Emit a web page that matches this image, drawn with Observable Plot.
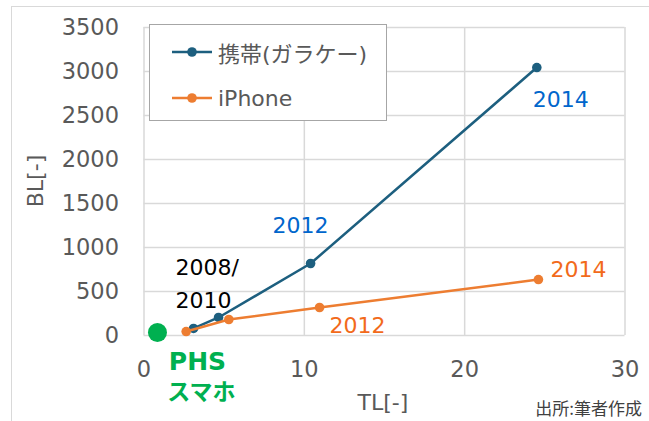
<!DOCTYPE html>
<html><head><meta charset="utf-8">
<script src="https://cdn.jsdelivr.net/npm/d3@7"></script>
<script src="https://cdn.jsdelivr.net/npm/@observablehq/plot@0.6"></script>
<style>
html,body{margin:0;padding:0;background:#fff;overflow:hidden;}
#wrap{position:relative;width:649px;height:421px;overflow:hidden;font-family:"DejaVu Sans","Noto Sans CJK JP",sans-serif;}
#frame{position:absolute;left:11px;top:6px;width:700px;height:500px;border:1.5px solid #d9d9d9;box-sizing:border-box;}
#plot{position:absolute;left:0;top:0;}
#legend{position:absolute;left:149px;top:24px;width:238px;height:97px;box-sizing:border-box;border:1.5px solid #a6a6a6;background:#fff;}
.li{position:absolute;left:22px;height:30px;display:flex;align-items:center;font-size:22px;color:#595959;}
.li svg{margin-right:6px;}
.ylab{position:absolute;left:35px;top:181px;transform:translate(-50%,-50%) rotate(-90deg);font-size:22px;color:#595959;white-space:nowrap;}
.xlab{position:absolute;left:383px;top:402px;transform:translate(-50%,-50%);font-size:22px;color:#595959;white-space:nowrap;}
.cap{position:absolute;right:7px;top:407px;transform:translateY(-50%);font-size:17px;color:#404040;font-family:"Noto Sans CJK JP",sans-serif;white-space:nowrap;}
</style></head><body>
<div id="wrap">
  <div id="frame"></div>
  <div id="plot"></div>
</div>
<script>
// ---- data ----
const seriesNames = ["携帯(ガラケー)", "iPhone"];
const keitaiTL = [3.09, 4.65, 10.39, 24.5];
const keitaiBL = [80, 205, 818, 3045];
const iphoneTL = [2.63, 5.29, 10.95, 24.6];
const iphoneBL = [45, 182, 318, 636];
const years = ["2008", "2010", "2012", "2014"];
const phsTL = [0.84];
const phsBL = [34];
const phsLabel1 = "PHS";
const phsLabel2 = "スマホ";
const earlyLabel = "2008/\n2010";
const xTicks = [0, 10, 20, 30];
const yTicks = [0, 500, 1000, 1500, 2000, 2500, 3000, 3500];
const xTitle = "TL[-]";
const yTitle = "BL[-]";
const caption = "出所:筆者作成";

const blue = "#1d5f7f", orange = "#ed7d31", green = "#00b050";
const keitai = keitaiTL.map((x, i) => ({x, y: keitaiBL[i], year: years[i]}));
const iphone = iphoneTL.map((x, i) => ({x, y: iphoneBL[i], year: years[i]}));
const phs = phsTL.map((x, i) => ({x, y: phsBL[i]}));

const font = "'DejaVu Sans','Noto Sans CJK JP',sans-serif";
const chart = Plot.plot({
  width: 649, height: 421,
  marginLeft: 143.5, marginRight: 24.5, marginTop: 27, marginBottom: 86,
  style: {fontFamily: font, fontSize: "22px", color: "#595959", background: "transparent", overflow: "visible"},
  x: {domain: [0, 30]},
  y: {domain: [0, 3500]},
  marks: [
    Plot.gridX(xTicks, {stroke: "#d9d9d9", strokeOpacity: 1, strokeWidth: 1.5}),
    Plot.gridY(yTicks, {stroke: "#d9d9d9", strokeOpacity: 1, strokeWidth: 1.5}),
    Plot.axisX(xTicks, {tickSize: 0, tickPadding: 26, fontSize: 22.5, label: null, tickFormat: d => String(d)}),
    Plot.axisY(yTicks, {tickSize: 0, tickPadding: 25, fontSize: 22.5, label: null, tickFormat: d => String(d)}),
    Plot.line(keitai, {x: "x", y: "y", stroke: blue, strokeWidth: 2.5}),
    Plot.dot(keitai, {x: "x", y: "y", r: 4.8, fill: blue}),
    Plot.line(iphone, {x: "x", y: "y", stroke: orange, strokeWidth: 2.5}),
    Plot.dot(iphone, {x: "x", y: "y", r: 4.8, fill: orange}),
    Plot.dot(phs, {x: "x", y: "y", r: 9.5, fill: green}),
    Plot.text(phs, {x: "x", y: "y", text: () => phsLabel1, dx: 40, dy: 29, fill: green, fontWeight: "bold", fontSize: 25}),
    Plot.text(phs, {x: "x", y: "y", text: () => phsLabel2, dx: 44, dy: 60, fill: green, fontWeight: "bold", fontSize: 23, fontFamily: "'Noto Sans CJK JP',sans-serif"}),
    Plot.text([keitai[1]], {x: "x", y: "y", text: () => earlyLabel, textAnchor: "start", dx: -43, dy: -37, fill: "#000", fontSize: 22, lineHeight: 1.5}),
    Plot.text([keitai[2]], {x: "x", y: "y", text: "year", dx: -10, dy: -38, fill: "#0066cc", fontSize: 22}),
    Plot.text([keitai[3]], {x: "x", y: "y", text: "year", dx: 24, dy: 32, fill: "#0066cc", fontSize: 22}),
    Plot.text([iphone[2]], {x: "x", y: "y", text: "year", dx: 38, dy: 18, fill: "#f26a1b", fontSize: 22}),
    Plot.text([iphone[3]], {x: "x", y: "y", text: "year", dx: 40, dy: -10, fill: "#f26a1b", fontSize: 22})
  ]
});
document.getElementById("plot").appendChild(chart);

const wrap = document.getElementById("wrap");
// legend
const lg = document.createElement("div");
lg.id = "legend";
[[seriesNames[0], blue, 12], [seriesNames[1], orange, 58]].forEach(([name, c, top]) => {
  const row = document.createElement("div");
  row.className = "li";
  row.style.top = top + "px";
  row.innerHTML = `<svg width="40" height="12"><line x1="0" y1="6" x2="40" y2="6" stroke="${c}" stroke-width="2.5"/><circle cx="20" cy="6" r="4.8" fill="${c}"/></svg><span>${name}</span>`;
  lg.appendChild(row);
});
wrap.appendChild(lg);
// axis titles & caption
const yl = document.createElement("div"); yl.className = "ylab"; yl.textContent = yTitle; wrap.appendChild(yl);
const xl = document.createElement("div"); xl.className = "xlab"; xl.textContent = xTitle; wrap.appendChild(xl);
const cp = document.createElement("div"); cp.className = "cap"; cp.textContent = caption; wrap.appendChild(cp);
</script>
</body></html>
